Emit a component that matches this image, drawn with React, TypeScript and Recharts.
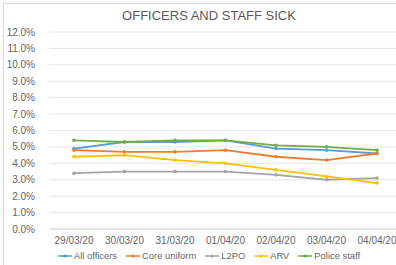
import React from 'react';
import { LineChart, Line, XAxis, YAxis, CartesianGrid } from 'recharts';

const dates = ['29/03/20', '30/03/20', '31/03/20', '01/04/20', '02/04/20', '03/04/20', '04/04/20'];
const allOfficers = [4.9, 5.3, 5.3, 5.4, 4.9, 4.8, 4.6];
const coreUniform = [4.8, 4.7, 4.7, 4.8, 4.4, 4.2, 4.6];
const l2po = [3.4, 3.5, 3.5, 3.5, 3.3, 3.0, 3.1];
const arv = [4.4, 4.5, 4.2, 4.0, 3.6, 3.2, 2.8];
const policeStaff = [5.4, 5.3, 5.4, 5.4, 5.1, 5.0, 4.8];
const yTicks = [0, 1, 2, 3, 4, 5, 6, 7, 8, 9, 10, 11, 12];

const series = [
  { key: 'all', name: 'All officers', color: '#5B9BD5' },
  { key: 'core', name: 'Core uniform', color: '#ED7D31' },
  { key: 'l2po', name: 'L2PO', color: '#A5A5A5' },
  { key: 'arv', name: 'ARV', color: '#FFC000' },
  { key: 'staff', name: 'Police staff', color: '#70AD47' },
];

const data = dates.map((d, i) => ({
  date: d,
  all: allOfficers[i],
  core: coreUniform[i],
  l2po: l2po[i],
  arv: arv[i],
  staff: policeStaff[i],
}));

const FONT = 'Liberation Sans, Arial, sans-serif';

const LegendBox = () => (
  <div style={{ position: 'absolute', left: 0, top: 250, width: 418, display: 'flex', justifyContent: 'center', gap: 9, fontFamily: FONT, fontSize: 9.4, color: '#666', lineHeight: '12px' }}>
    {series.map((s) => (
      <div key={s.key} style={{ display: 'flex', alignItems: 'center' }}>
        <svg width={14} height={6} style={{ marginRight: 2 }}>
          <line x1={0} y1={3} x2={14} y2={3} stroke={s.color} strokeWidth={1.5} />
          <circle cx={7} cy={3} r={1.6} fill={s.color} />
        </svg>
        <span>{s.name}</span>
      </div>
    ))}
  </div>
);

export default function App() {
  return (
    <div style={{ position: 'absolute', left: 0, top: 0, width: 396, height: 265, overflow: 'hidden', background: '#fff' }}>
      <div style={{ position: 'absolute', left: 3, top: 3, width: 440, height: 300, borderLeft: '1px solid #d9d9d9', borderTop: '1px solid #d9d9d9' }} />
      <div style={{ position: 'absolute', left: 0, top: 8, width: 418, textAlign: 'center', fontFamily: FONT, fontSize: 13, color: '#595959' }}>
        OFFICERS AND STAFF SICK
      </div>
      <div style={{ position: 'absolute', left: 0, top: 0 }}>
        <LineChart width={418} height={265} data={data} margin={{ top: 32, right: 16, bottom: 20, left: 0 }}>
          <CartesianGrid vertical={false} stroke="#e6e6e6" strokeWidth={1} />
          <XAxis
            dataKey="date"
            padding={{ left: 25, right: 25 }}
            tickLine={false}
            axisLine={{ stroke: '#d9d9d9' }}
            tick={{ fontSize: 10, fill: '#666', fontFamily: FONT }}
            interval={0}
            height={16}
          />
          <YAxis
            domain={[0, 12]}
            ticks={yTicks}
            interval={0}
            width={49}
            axisLine={false}
            tickLine={false}
            tickFormatter={(v: number) => v.toFixed(1) + '%'}
            tick={{ fontSize: 10, fill: '#666', fontFamily: FONT }}
            tickMargin={8}
          />
          {series.map((s) => (
            <Line
              key={s.key}
              dataKey={s.key}
              name={s.name}
              stroke={s.color}
              strokeWidth={1.8}
              dot={{ r: 1.8, fill: s.color, stroke: s.color, strokeWidth: 0 }}
              isAnimationActive={false}
            />
          ))}
        </LineChart>
      </div>
      <LegendBox />
    </div>
  );
}
